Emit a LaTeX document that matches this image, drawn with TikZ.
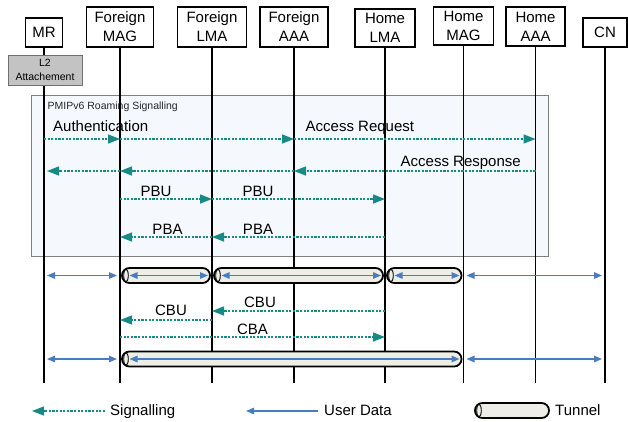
\documentclass[tikz,border=0pt]{standalone}
\usepackage{fontspec}
\setmainfont{Liberation Sans}
\usetikzlibrary{arrows.meta,calc}

\definecolor{sigteal}{HTML}{178A85}
\definecolor{udblue}{HTML}{4A7DC0}
\definecolor{pipefill}{HTML}{EEEEE6}
\definecolor{panelfill}{HTML}{F5F9FD}
\definecolor{panelline}{HTML}{808080}
\definecolor{l2fill}{HTML}{C3C3C3}
\definecolor{l2line}{HTML}{707070}

% a tunnel between two lifelines on a given row, with the user-data arrow inside
\newcommand{\pipeseg}[3]{%
  \draw[pipe] ($(#1 |- #3)+(2,-7.5)$) rectangle ($(#2 |- #3)+(-2,7.5)$);
  \draw[pipeend] ($(#1 |- #3)+(6,0)$) ellipse[x radius=2.3pt, y radius=6.3pt];
  \draw[ud] ($(#1 |- #3)+(9.5,0)$) -- ($(#2 |- #3)+(-4,0)$);
}

\begin{document}
\begin{tikzpicture}[x=1pt,y=-1pt,
  actor/.style={draw=black, line width=1.3pt, fill=white, inner sep=0pt,
    align=center, font=\fontsize{15}{19}\selectfont},
  lifeline/.style={line width=1.3pt, black},
  sig/.style={sigteal, line width=1.4pt, dash pattern=on 2.2pt off 1.4pt,
    -{Triangle[length=12pt,width=9pt]}},
  ud/.style={udblue, line width=1.3pt,
    {Triangle[length=8pt,width=6.5pt]}-{Triangle[length=8pt,width=6.5pt]}},
  udone/.style={udblue, line width=1.3pt, -{Triangle[length=8pt,width=6.5pt]}},
  lbl/.style={font=\fontsize{15}{18}\selectfont, inner sep=0pt},
  pipe/.style={draw=black, line width=1.8pt, fill=pipefill, rounded corners=7.4pt},
  pipeend/.style={draw=black, line width=0.9pt, fill=pipefill},
]
\useasboundingbox (0,0) rectangle (628,421);

% signalling panel
\draw[draw=panelline, line width=0.9pt, fill=panelfill] (31,95) rectangle (548,256);
\node[anchor=base west, inner sep=0pt, font=\fontsize{10.5}{12}\selectfont, text=black!85]
  (paneltitle) at (47.5,109) {PMIPv6 Roaming Signalling};

% actors
\node[actor, minimum width=37pt, minimum height=29pt] (mr)   at (44,32.5)  {MR};
\node[actor, minimum width=67pt, minimum height=40pt] (fmag) at (120,27)   {Foreign\\MAG};
\node[actor, minimum width=69pt, minimum height=40pt] (flma) at (212,27)   {Foreign\\LMA};
\node[actor, minimum width=68pt, minimum height=40pt] (faaa) at (294,27)   {Foreign\\AAA};
\node[actor, minimum width=60pt, minimum height=38pt] (hlma) at (385,28)   {Home\\LMA};
\node[actor, minimum width=60pt, minimum height=38pt] (hmag) at (463.5,26) {Home\\MAG};
\node[actor, minimum width=59pt, minimum height=39pt] (haaa) at (535.5,26.5) {Home\\AAA};
\node[actor, minimum width=44pt, minimum height=29pt] (cn)   at (605,32.5) {CN};

% lifelines
\coordinate (bottom) at (0,383);
\foreach \a in {mr,fmag,flma,faaa,hlma,hmag,haaa,cn}
  \draw[lifeline] (\a.south) -- (\a.south |- bottom);

% L2 attachment step
\node[draw=l2line, line width=0.9pt, fill=l2fill, minimum width=74pt, minimum height=30pt,
  inner sep=0pt, align=center, font=\fontsize{10.5}{14}\selectfont] (l2) at (45,70)
  {L2\\Attachement};

% signalling rows
\coordinate (s1) at (0,139);
\coordinate (s2) at (0,171);
\coordinate (s3) at (0,199);
\coordinate (s4) at (0,237);
\coordinate (c1) at (0,311);
\coordinate (c2) at (0,320);
\coordinate (c3) at (0,337);

\draw[sig] (mr |- s1) -- (fmag |- s1);
\draw[sig] (fmag |- s1) -- (faaa |- s1);
\draw[sig] (faaa |- s1) -- (haaa |- s1);
\node[lbl, anchor=base west] (auth) at (53,131.5) {Authentication};
\node[lbl, anchor=base west] (accreq) at (305.5,131.5) {Access Request};

\draw[sig] (haaa |- s2) -- (faaa |- s2);
\draw[sig] (faaa |- s2) -- (fmag |- s2);
\draw[sig] (fmag |- s2) -- ($(mr |- s2)+(3,0)$);
\node[lbl, anchor=base west] (accresp) at (400.5,166) {Access Response};

\draw[sig] (fmag |- s3) -- (flma |- s3);
\draw[sig] (flma |- s3) -- (hlma |- s3);
\node[lbl, anchor=base] (pbu1) at (156,196) {PBU};
\node[lbl, anchor=base] (pbu2) at (258,196) {PBU};

\draw[sig] (hlma |- s4) -- (flma |- s4);
\draw[sig] (flma |- s4) -- (fmag |- s4);
\node[lbl, anchor=base] (pba1) at (167.5,234) {PBA};
\node[lbl, anchor=base] (pba2) at (258,234) {PBA};

% user data, first path
\coordinate (u1) at (0,275.5);
\draw[ud] ($(mr |- u1)+(3,0)$) -- ($(fmag |- u1)+(-3,0)$);
\pipeseg{fmag}{flma}{u1}
\pipeseg{flma}{hlma}{u1}
\pipeseg{hlma}{hmag}{u1}
\draw[ud] ($(hmag |- u1)+(3,0)$) -- ($(cn |- u1)+(-3,0)$);

% binding update towards the home LMA
\draw[sig] (hlma |- c1) -- (flma |- c1);
\node[lbl, anchor=base] (cbu1) at (260,307.3) {CBU};
\draw[sig] (flma |- c2) -- (fmag |- c2);
\node[lbl, anchor=base] (cbu2) at (171,315.7) {CBU};
\draw[sig] (fmag |- c3) -- (hlma |- c3);
\node[lbl, anchor=base] (cba) at (252.5,334) {CBA};

% user data, second path
\coordinate (u2) at (0,359);
\draw[ud] ($(mr |- u2)+(3,0)$) -- ($(fmag |- u2)+(-3,0)$);
\pipeseg{fmag}{hmag}{u2}
\draw[ud] ($(hmag |- u2)+(3,0)$) -- ($(cn |- u2)+(-3,0)$);

% legend
\coordinate (legsigtail) at (105,411);
\coordinate (legsighead) at (32,411);
\draw[sig] (legsigtail) -- (legsighead);
\node[lbl, anchor=base west] (legsig) at (110,415.5) {Signalling};

\coordinate (legudtail) at (318,411);
\coordinate (legudhead) at (246,411);
\draw[udone] (legudtail) -- (legudhead);
\node[lbl, anchor=base west] (legud) at (324,415.5) {User Data};

\draw[pipe] (475,403) rectangle (549,418);
\draw[pipeend] (479,410.5) ellipse[x radius=2.3pt, y radius=6.3pt];
\node[lbl, anchor=base west] (legpipe) at (555,415.5) {Tunnel};
\end{tikzpicture}
\end{document}
